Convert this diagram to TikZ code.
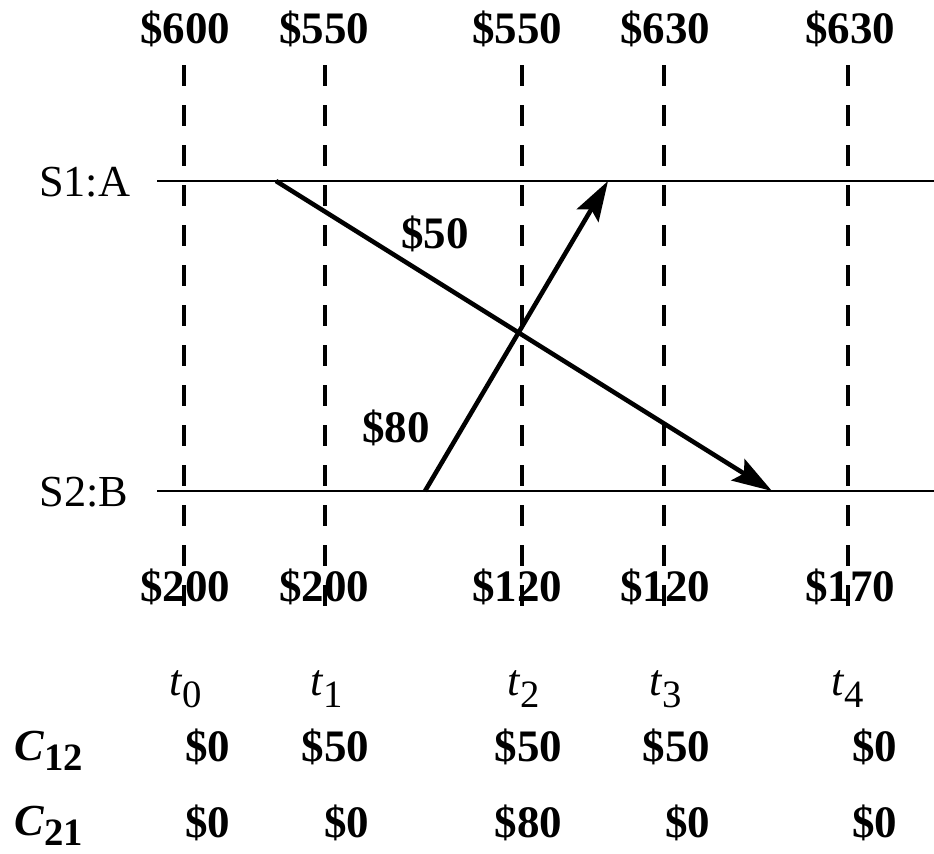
\documentclass[tikz,border=0pt]{standalone}
\usepackage{fontspec}
\setmainfont{Liberation Serif}
\usetikzlibrary{arrows.meta}

\newcommand{\tlab}[1]{\textit{t}\raisebox{-0.6ex}{\fontsize{11}{11}\selectfont #1}}
\newcommand{\clab}[1]{\textbf{\textit{C}}\raisebox{-0.5ex}{\fontsize{11}{11}\selectfont\bfseries #1}}

\begin{document}
\begin{tikzpicture}[
  x=0.01cm, y=-0.01cm,
  every node/.style={font=\fontsize{12.6}{15}\selectfont, inner sep=0pt},
  price/.style={font=\fontsize{12.8}{15}\selectfont\bfseries, anchor=base east},
  site/.style={anchor=base east},
  tick/.style={anchor=base},
  timeline/.style={line width=0.8pt},
  marker/.style={line width=1.05pt, dash pattern=on 0.21cm off 0.19cm},
  arrow/.style={-{Stealth[length=0.4cm,width=0.25cm,inset=0.07cm]}, line width=1.3pt}
]
\useasboundingbox (0,0) rectangle (934,853);

% time markers
\draw[marker] (184,65) -- (184,620);
\draw[marker] (325,65) -- (325,620);
\draw[marker] (522,65) -- (522,620);
\draw[marker] (664,65) -- (664,620);
\draw[marker] (848,65) -- (848,620);

% sites
\node[site] (s1) at (131,196) {S1:A};
\node[site] (s2) at (129,506) {S2:B};
\coordinate (s1end) at (934,181);
\coordinate (s2end) at (934,491);
\draw[timeline] (s1.east |- s1end) ++(26,0) -- (s1end);
\draw[timeline] (s2.east |- s2end) ++(28,0) -- (s2end);

% transfers
\coordinate (sendA) at (276,181);
\coordinate (recvB) at (772,491);
\coordinate (sendB) at (425,491);
\coordinate (recvA) at (608,181);
\draw[arrow] (sendA) -- (recvB);
\draw[arrow] (sendB) -- (recvA);
\node[price, anchor=center] (m50) at (435,234) {\$50};
\node[price, anchor=center] (m80) at (396,428) {\$80};

% balances at A
\node[price] (a0) at (231,43) {\$600};
\node[price] (a1) at (370,43) {\$550};
\node[price] (a2) at (563,43) {\$550};
\node[price] (a3) at (711,43) {\$630};
\node[price] (a4) at (896,43) {\$630};

% balances at B
\node[price] (b0) at (231,601) {\$200};
\node[price] (b1) at (370,601) {\$200};
\node[price] (b2) at (563,601) {\$120};
\node[price] (b3) at (711,601) {\$120};
\node[price] (b4) at (896,601) {\$170};

% times
\node[tick] (t0) at (186,695) {\tlab{0}};
\node[tick] (t1) at (327,695) {\tlab{1}};
\node[tick] (t2) at (524,695) {\tlab{2}};
\node[tick] (t3) at (666,695) {\tlab{3}};
\node[tick] (t4) at (848,695) {\tlab{4}};

% channel contents
\node[site] (c12) at (84,760) {\clab{12}};
\node[site] (c21) at (84,835) {\clab{21}};

\node[price] (x0) at (231,761) {\$0};
\node[price] (x1) at (370,761) {\$50};
\node[price] (x2) at (563,761) {\$50};
\node[price] (x3) at (711,761) {\$50};
\node[price] (x4) at (898,761) {\$0};

\node[price] (y0) at (231,837) {\$0};
\node[price] (y1) at (370,837) {\$0};
\node[price] (y2) at (563,837) {\$80};
\node[price] (y3) at (711,837) {\$0};
\node[price] (y4) at (898,837) {\$0};
\end{tikzpicture}
\end{document}
